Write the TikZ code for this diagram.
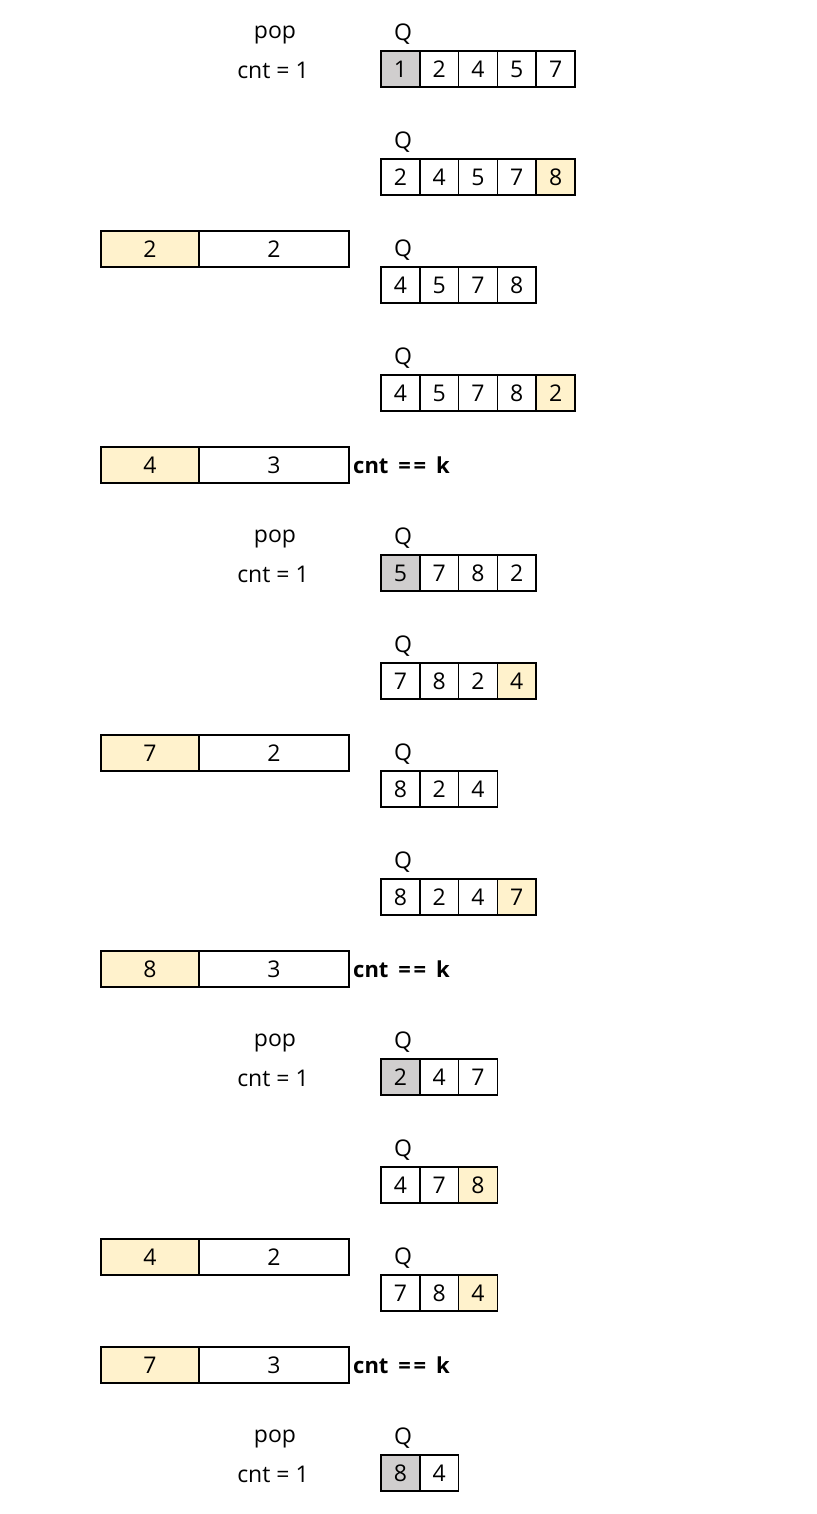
\documentclass[tikz,border=0pt]{standalone}
\usepackage{fontspec}
\setmainfont{Open Sans}
\usepackage{tikz}
\definecolor{lightyellow}{HTML}{FFF2CC}
\definecolor{lightgray}{HTML}{D0CECE}
\usetikzlibrary{positioning}
\tikzstyle{cell} = [draw, rectangle, line width=1.5pt, outer sep=0pt, inner sep=0pt,
    minimum width=38.8pt, minimum height=36pt]
\tikzstyle{front} = [cell, fill=lightgray]
\tikzstyle{pushed} = [cell, fill=lightyellow]
\tikzstyle{keybox} = [cell, fill=lightyellow, minimum width=98pt]
\tikzstyle{countbox} = [cell, minimum width=150pt]
\tikzstyle{label} = [inner sep=0pt]
\tikzstyle{check} = [inner sep=0pt, font=\fontsize{22pt}{24pt}\selectfont\bfseries]

% one queue row: name, y of the cells, list of value/style
\newcommand{\qrow}[3]{%
  \node [label] (#1q) at (403, #2-35) {Q};
  \foreach \v/\s [count=\i] in {#3} {
    \node [\s] (#1c\i) at (400.4+38.8*\i-38.8, #2) {\v};
  }
}
\newcommand{\cntk}{cnt\hspace{0.45em}=\hspace{0.12em}=\hspace{0.45em}k}

\begin{document}
\begin{tikzpicture}[x=1pt, y=-1pt, font=\fontsize{23pt}{25pt}\selectfont]
    \useasboundingbox (0,0) rectangle (816,1514);

    % first round
    \node [label] (pop1) at (275, 35) {pop};
    \node [label] (cnt1) at (273, 70) {cnt = 1};
    \qrow{a}{69}{1/front, 2/cell, 4/cell, 5/cell, 7/cell}
    \qrow{b}{177}{2/cell, 4/cell, 5/cell, 7/cell, 8/pushed}
    \node [keybox] (key1) at (150, 249) {2};
    \node [countbox, right=0pt of key1] (num1) {2};
    \qrow{c}{285}{4/cell, 5/cell, 7/cell, 8/cell}
    \qrow{d}{393}{4/cell, 5/cell, 7/cell, 8/cell, 2/pushed}
    \node [keybox] (key2) at (150, 465) {4};
    \node [countbox, right=0pt of key2] (num2) {3};
    \node [check, right=4pt of num2] (done1) {\cntk};

    % second round
    \node [label] (pop2) at (275, 539) {pop};
    \node [label] (cnt2) at (273, 574) {cnt = 1};
    \qrow{e}{573}{5/front, 7/cell, 8/cell, 2/cell}
    \qrow{f}{681}{7/cell, 8/cell, 2/cell, 4/pushed}
    \node [keybox] (key3) at (150, 753) {7};
    \node [countbox, right=0pt of key3] (num3) {2};
    \qrow{g}{789}{8/cell, 2/cell, 4/cell}
    \qrow{h}{897}{8/cell, 2/cell, 4/cell, 7/pushed}
    \node [keybox] (key4) at (150, 969) {8};
    \node [countbox, right=0pt of key4] (num4) {3};
    \node [check, right=4pt of num4] (done2) {\cntk};

    % third round
    \node [label] (pop3) at (275, 1043) {pop};
    \node [label] (cnt3) at (273, 1078) {cnt = 1};
    \qrow{i}{1077}{2/front, 4/cell, 7/cell}
    \qrow{j}{1185}{4/cell, 7/cell, 8/pushed}
    \node [keybox] (key5) at (150, 1257) {4};
    \node [countbox, right=0pt of key5] (num5) {2};
    \qrow{k}{1293}{7/cell, 8/cell, 4/pushed}
    \node [keybox] (key6) at (150, 1365) {7};
    \node [countbox, right=0pt of key6] (num6) {3};
    \node [check, right=4pt of num6] (done3) {\cntk};

    % last round
    \node [label] (pop4) at (275, 1439) {pop};
    \node [label] (cnt4) at (273, 1474) {cnt = 1};
    \qrow{l}{1473}{8/front, 4/cell}
\end{tikzpicture}
\end{document}
